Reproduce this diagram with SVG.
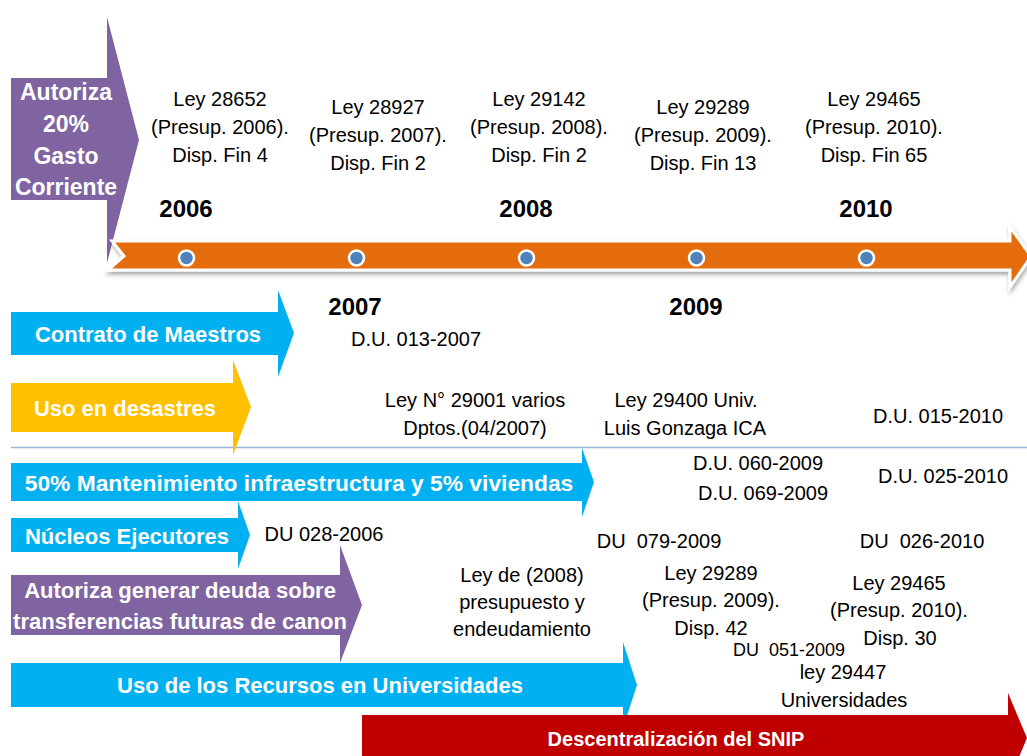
<svg xmlns="http://www.w3.org/2000/svg" width="1027" height="756" viewBox="0 0 1027 756">
<defs>
<filter id="sh" x="-5%" y="-50%" width="110%" height="200%">
<feDropShadow dx="1" dy="3" stdDeviation="2" flood-color="#000" flood-opacity="0.35"/>
</filter>
</defs>
<style>
text{font-family:"Liberation Sans",Arial,sans-serif;}
.lbl{font-size:22px;font-weight:bold;fill:#fff;text-anchor:middle;}
.t{font-size:20px;fill:#000;text-anchor:middle;}
.yr{font-size:24px;font-weight:bold;fill:#000;text-anchor:middle;}
.blue{fill:#00B0F0;}
.yel{fill:#FFC000;}
.pur{fill:#8064A2;}
.red{fill:#C00000;}
.dot{fill:#4F81BD;stroke:#fff;stroke-width:2.5;}
</style>
<rect width="1027" height="756" fill="#fff"/>

<g id="separators">
<line x1="11" y1="447.5" x2="1027" y2="447.5" stroke="#95B3D7" stroke-width="1.5"/>
</g>

<g id="n-autoriza-20">
<polygon class="pur" points="11,78 107,78 107,17 139,140 107,263 107,200 11,200"/>
<text class="lbl" x="66" y="100" style="font-size:23px">Autoriza</text>
<text class="lbl" x="66" y="132" style="font-size:23px">20%</text>
<text class="lbl" x="66" y="164" style="font-size:23px">Gasto</text>
<text class="lbl" x="66" y="195" style="font-size:23px">Corriente</text>
</g>

<g id="timeline">
<polygon points="112,241 1010,241 1010,227 1031,256.5 1010,287 1010,270 108,270 124,256" fill="#E46C0A" stroke="#fff" stroke-width="3" filter="url(#sh)"/>
<circle class="dot" cx="186.5" cy="258" r="7.5"/>
<circle class="dot" cx="356.5" cy="258" r="7.5"/>
<circle class="dot" cx="526.5" cy="258" r="7.5"/>
<circle class="dot" cx="696.5" cy="258" r="7.5"/>
<circle class="dot" cx="866.5" cy="258" r="7.5"/>
<text class="yr" x="186" y="217">2006</text>
<text class="yr" x="526" y="217">2008</text>
<text class="yr" x="866" y="217">2010</text>
<text class="yr" x="355" y="315">2007</text>
<text class="yr" x="696" y="315">2009</text>
</g>

<g id="leyes-top">
<text class="t" x="220" y="106">Ley 28652</text>
<text class="t" x="220" y="134">(Presup. 2006).</text>
<text class="t" x="220" y="162">Disp. Fin 4</text>
<text class="t" x="378" y="114">Ley 28927</text>
<text class="t" x="378" y="142">(Presup. 2007).</text>
<text class="t" x="378" y="170">Disp. Fin 2</text>
<text class="t" x="539" y="106">Ley 29142</text>
<text class="t" x="539" y="134">(Presup. 2008).</text>
<text class="t" x="539" y="162">Disp. Fin 2</text>
<text class="t" x="703" y="114">Ley 29289</text>
<text class="t" x="703" y="142">(Presup. 2009).</text>
<text class="t" x="703" y="170">Disp. Fin 13</text>
<text class="t" x="874" y="106">Ley 29465</text>
<text class="t" x="874" y="134">(Presup. 2010).</text>
<text class="t" x="874" y="162">Disp. Fin 65</text>
</g>

<g id="n-contrato">
<polygon class="blue" points="11,312 278,312 278,290 294,333 278,377 278,355 11,355"/>
<text class="lbl" x="148" y="342">Contrato de Maestros</text>
</g>

<g id="n-desastres">
<polygon class="yel" points="11,383 233,383 233,360 251,407 233,455 233,432 11,432"/>
<text class="lbl" x="125" y="416">Uso en desastres</text>
</g>

<g id="n-mantenimiento">
<polygon class="blue" points="11,463 582,463 582,448 594,482 582,517 582,501 11,501"/>
<text class="lbl" x="299" y="491" style="font-size:22.8px">50% Mantenimiento infraestructura y 5% viviendas</text>
</g>

<g id="n-nucleos">
<polygon class="blue" points="11,518 238,518 238,501 250,535 238,569 238,552 11,552"/>
<text class="lbl" x="127" y="544">Núcleos Ejecutores</text>
</g>

<g id="n-deuda">
<polygon class="pur" points="11,575 340,575 340,545 362,605 340,663 340,635 11,635"/>
<text class="lbl" x="180" y="598">Autoriza generar deuda sobre</text>
<text class="lbl" x="180" y="629">transferencias futuras de canon</text>
</g>

<g id="n-universidades">
<polygon class="blue" points="11,663 623,663 623,642 637,685 623,728 623,707 11,707"/>
<text class="lbl" x="320" y="693">Uso de los Recursos en Universidades</text>
</g>

<g id="n-snip">
<polygon class="red" points="362,715 1008,715 1008,693 1027,738 1008,783 1008,761 362,761"/>
<text class="lbl" x="676" y="746" style="font-size:20px">Descentralización del SNIP</text>
</g>

<g id="normas">
<text class="t" x="416" y="346">D.U. 013-2007</text>
<text class="t" x="475" y="407">Ley N° 29001 varios</text>
<text class="t" x="475" y="435">Dptos.(04/2007)</text>
<text class="t" x="686" y="407">Ley 29400 Univ.</text>
<text class="t" x="685" y="435">Luis Gonzaga ICA</text>
<text class="t" x="938" y="423">D.U. 015-2010</text>
<text class="t" x="758" y="470">D.U. 060-2009</text>
<text class="t" x="763" y="500">D.U. 069-2009</text>
<text class="t" x="943" y="483">D.U. 025-2010</text>
<text class="t" x="324" y="541">DU 028-2006</text>
<text class="t" x="659" y="548" xml:space="preserve">DU  079-2009</text>
<text class="t" x="922" y="548" xml:space="preserve">DU  026-2010</text>
<text class="t" x="522" y="582">Ley de (2008)</text>
<text class="t" x="522" y="609">presupuesto y</text>
<text class="t" x="522" y="636">endeudamiento</text>
<text class="t" x="711" y="580">Ley 29289</text>
<text class="t" x="711" y="607">(Presup. 2009).</text>
<text class="t" x="711" y="635">Disp. 42</text>
<text class="t" x="899" y="590">Ley 29465</text>
<text class="t" x="899" y="617">(Presup. 2010).</text>
<text class="t" x="900" y="645">Disp. 30</text>
<text class="t" x="789" y="656" style="font-size:18px" xml:space="preserve">DU  051-2009</text>
<text class="t" x="843" y="679">ley 29447</text>
<text class="t" x="844" y="707">Universidades</text>
</g>
</svg>
